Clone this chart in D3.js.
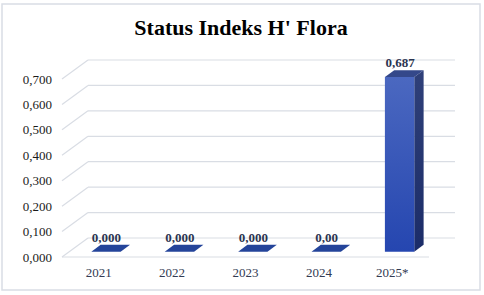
<!DOCTYPE html>
<html>
<head>
<meta charset="utf-8">
<script src="https://cdn.jsdelivr.net/npm/d3@7"></script>
<style>
  body { margin: 0; background: #fff; }
  svg { display: block; }
</style>
</head>
<body>
<div id="chart"></div>
<script>
// Chart data
const years = ["2021", "2022", "2023", "2024", "2025*"];
const values = [0, 0, 0, 0, 0.687];
const valueLabels = ["0,000", "0,000", "0,000", "0,00", "0,687"];
const yTicks = [0, 0.1, 0.2, 0.3, 0.4, 0.5, 0.6, 0.7];
const yTickLabels = ["0,000", "0,100", "0,200", "0,300", "0,400", "0,500", "0,600", "0,700"];

const width = 484, height = 295;
const DX = 26, DY = 19;      // depth of the 3D floor
const d0 = 0.28, d1 = 0.64;  // bar depth inside floor

const svg = d3.select("#chart").append("svg")
    .attr("width", width)
    .attr("height", height);

const defs = svg.append("defs");
const gFront = defs.append("linearGradient").attr("id", "front")
    .attr("x1", 0).attr("y1", 0).attr("x2", 0).attr("y2", 1);
gFront.append("stop").attr("offset", "0%").attr("stop-color", "#4b68c0");
gFront.append("stop").attr("offset", "100%").attr("stop-color", "#2546b0");
const gSide = defs.append("linearGradient").attr("id", "side")
    .attr("x1", 0).attr("y1", 0).attr("x2", 0).attr("y2", 1);
gSide.append("stop").attr("offset", "0%").attr("stop-color", "#2f4079");
gSide.append("stop").attr("offset", "100%").attr("stop-color", "#1b2c68");

// frame
svg.append("rect")
    .attr("x", 2).attr("y", 4)
    .attr("width", 478).attr("height", 286)
    .attr("fill", "#fff")
    .attr("stroke", "#d9dde5")
    .attr("stroke-width", 1.5);

// title
svg.append("text")
    .attr("x", 241).attr("y", 35)
    .attr("text-anchor", "middle")
    .style("font-family", "'Liberation Serif', 'Times New Roman', serif")
    .style("font-weight", "bold")
    .style("font-size", "22px")
    .attr("fill", "#000")
    .text("Status Indeks H' Flora");

// scales (front plane)
const x = d3.scaleBand()
    .domain(years)
    .range([62, 429])
    .paddingInner(0.6)
    .paddingOuter(0.3);

const y = d3.scaleLinear()
    .domain([0, 0.7])
    .range([257, 79]);

const step = x.step();
const x0 = 62, x1 = 429;

// gridlines: back wall lines + diagonal side lines
const grid = svg.append("g").attr("stroke", "#d9dde4").attr("stroke-width", 1.2).attr("fill", "none");
grid.selectAll(".back")
    .data(yTicks)
    .enter().append("line")
    .attr("x1", x0 + DX).attr("x2", x1 + DX)
    .attr("y1", d => y(d) - DY).attr("y2", d => y(d) - DY);
grid.selectAll(".diag")
    .data(yTicks)
    .enter().append("line")
    .attr("x1", x0).attr("y1", d => y(d))
    .attr("x2", x0 + DX).attr("y2", d => y(d) - DY);
// front floor edge
grid.append("line")
    .attr("x1", x0).attr("x2", x1)
    .attr("y1", y(0)).attr("y2", y(0));

// y tick labels
svg.append("g").selectAll("text")
    .data(yTicks)
    .enter().append("text")
    .attr("x", 52)
    .attr("y", d => y(d) + 4.5)
    .attr("text-anchor", "end")
    .style("font-family", "'Liberation Serif', 'Times New Roman', serif")
    .style("font-size", "13px")
    .attr("fill", "#1a1a1a")
    .text((d, i) => yTickLabels[i]);

// x labels
svg.append("g").selectAll("text")
    .data(years)
    .enter().append("text")
    .attr("x", d => x(d) + x.bandwidth() / 2)
    .attr("y", 277)
    .attr("text-anchor", "middle")
    .style("font-family", "'Liberation Serif', 'Times New Roman', serif")
    .style("font-size", "13px")
    .attr("fill", "#333b52")
    .text(d => d);

// bars
const bw = x.bandwidth();
const pt = (xx, v, d) => [xx + d * DX, y(v) - d * DY];
const poly = pts => "M" + pts.map(p => p.join(",")).join("L") + "Z";

const bars = svg.append("g");
years.forEach((yr, i) => {
    const v = values[i];
    const L = x(yr), R = x(yr) + bw;
    if (v > 0) {
        // side face
        bars.append("path")
            .attr("d", poly([pt(R, 0, d0), pt(R, 0, d1), pt(R, v, d1), pt(R, v, d0)]))
            .attr("fill", "url(#side)");
        // front face
        bars.append("path")
            .attr("d", poly([pt(L, 0, d0), pt(R, 0, d0), pt(R, v, d0), pt(L, v, d0)]))
            .attr("fill", "url(#front)");
    }
    // top face
    bars.append("path")
        .attr("d", poly([pt(L, v, d0), pt(R, v, d0), pt(R, v, d1), pt(L, v, d1)]))
        .attr("fill", v > 0 ? "#34488a" : "#24449a");
});

// value labels
svg.append("g").selectAll("text")
    .data(years)
    .enter().append("text")
    .attr("x", d => x(d) + bw / 2 + d0 * DX + 0.5)
    .attr("y", (d, i) => y(values[i]) - d1 * DY - 3)
    .attr("text-anchor", "middle")
    .style("font-family", "'Liberation Serif', 'Times New Roman', serif")
    .style("font-weight", "bold")
    .style("font-size", "13px")
    .attr("fill", "#2b3450")
    .text((d, i) => valueLabels[i]);
</script>
</body>
</html>
